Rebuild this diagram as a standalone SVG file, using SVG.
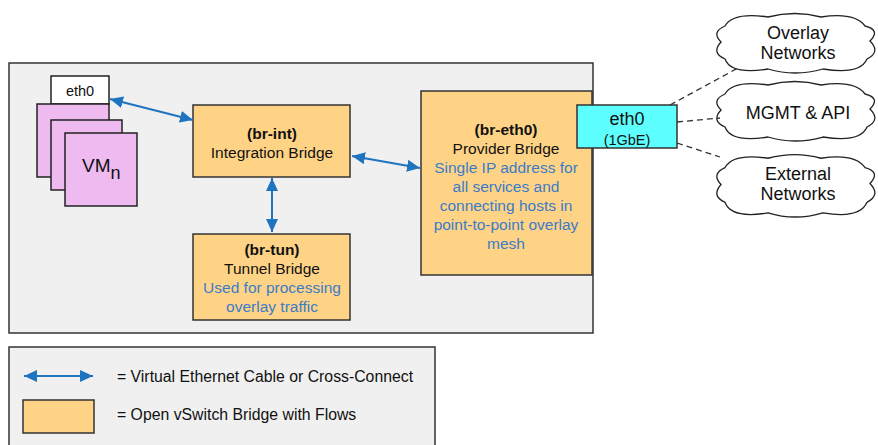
<svg xmlns="http://www.w3.org/2000/svg" width="878" height="445" viewBox="0 0 878 445">
<style>
text{font-family:"Liberation Sans",Arial,sans-serif;fill:#111;}
.c{text-anchor:middle;font-size:15.5px;}
.b{font-weight:bold;}
.blue{fill:#3a7cc8;}
.lg{font-size:15.8px;}
.br{fill:#ffd385;stroke:#333;stroke-width:1.5;}
.vm{fill:#eebaf0;stroke:#222;stroke-width:1.5;}
.conn{fill:none;stroke:#1f74c0;stroke-width:2;marker-start:url(#ah);marker-end:url(#ah);}
.dash{fill:none;stroke:#333;stroke-width:1.3;stroke-dasharray:6,4;}
.cloud{fill:#fff;stroke:#222;stroke-width:1.3;}
</style>
<defs>
<marker id="ah" markerUnits="userSpaceOnUse" markerWidth="14" markerHeight="12" refX="13" refY="6" orient="auto-start-reverse">
<path d="M0,0 L13,6 L0,12 Z" fill="#1f74c0"/>
</marker>
<path id="cloudShape" d="M12,14 Q20,0 55,5 Q82,-2 108,5 Q142,0 152,14 Q168,18 157,29 Q168,40 154,47 Q147,63 110,57 Q82,65 55,57 Q18,63 12,47 Q-2,41 8,30 Q-2,20 12,14 Z"/>
</defs>

<g id="host">
<rect x="9" y="63" width="584" height="270" fill="#f0f0f0" stroke="#333" stroke-width="1.5"/>
</g>

<g id="legend">
<rect x="9" y="347" width="426" height="110" fill="#f0f0f0" stroke="#333" stroke-width="1.5"/>
<path class="conn" d="M24,376 L93,376"/>
<text class="lg" x="117" y="381.5">= Virtual Ethernet Cable or Cross-Connect</text>
<rect class="br" x="23" y="400" width="71" height="33"/>
<text class="lg" x="117" y="419.5">= Open vSwitch Bridge with Flows</text>
</g>

<g id="vms">
<rect x="51" y="76" width="58" height="28" fill="#fff" stroke="#222" stroke-width="1.5"/>
<text class="c" x="80" y="96" style="font-size:14.5px">eth0</text>
<rect class="vm" x="37" y="104" width="72" height="73"/>
<rect class="vm" x="51" y="120" width="71" height="70"/>
<rect class="vm" x="65" y="133" width="72" height="73"/>
<text x="82" y="172" style="font-size:19px">VM<tspan dy="7" style="font-size:18px">n</tspan></text>
</g>

<g id="br-int">
<rect class="br" x="193" y="105" width="157" height="72"/>
<text class="c b" x="272" y="138.5">(br-int)</text>
<text class="c" x="272" y="157.5">Integration Bridge</text>
</g>

<g id="br-tun">
<rect class="br" x="193" y="234" width="157" height="86"/>
<text class="c b" x="272" y="254.5">(br-tun)</text>
<text class="c" x="272" y="273.5">Tunnel Bridge</text>
<text class="c blue" x="272" y="292.5">Used for processing</text>
<text class="c blue" x="272" y="311.5">overlay traffic</text>
</g>

<g id="br-eth0">
<rect class="br" x="421" y="91" width="171" height="184"/>
<text class="c b" x="506" y="134.5">(br-eth0)</text>
<text class="c" x="506" y="153.5">Provider Bridge</text>
<text class="c blue" x="506" y="172.5">Single IP address for</text>
<text class="c blue" x="506" y="191.5">all services and</text>
<text class="c blue" x="506" y="210.5">connecting hosts in</text>
<text class="c blue" x="506" y="229.5">point-to-point overlay</text>
<text class="c blue" x="506" y="248.5">mesh</text>
</g>

<g id="eth0-phys">
<rect x="577" y="105" width="100" height="43" fill="#5effff" stroke="#333" stroke-width="1.5"/>
<text class="c" x="627" y="124.5" style="font-size:18px">eth0</text>
<text class="c" x="627" y="145" style="font-size:14.5px">(1GbE)</text>
</g>

<g id="cloud-overlay">
<use href="#cloudShape" class="cloud" transform="translate(713,12)"/>
<text class="c" x="798" y="38.5" style="font-size:18px">Overlay</text>
<text class="c" x="798" y="58.5" style="font-size:18px">Networks</text>
</g>
<g id="cloud-mgmt">
<use href="#cloudShape" class="cloud" transform="translate(713,80)"/>
<text class="c" x="798" y="118.5" style="font-size:18px">MGMT &amp; API</text>
</g>
<g id="cloud-external">
<use href="#cloudShape" class="cloud" transform="translate(713,153) scale(1,1.05)"/>
<text class="c" x="798" y="179.5" style="font-size:18px">External</text>
<text class="c" x="798" y="199.5" style="font-size:18px">Networks</text>
</g>

<g id="connectors">
<path class="conn" d="M110,99 L193,120"/>
<path class="conn" d="M272,178 L272,232"/>
<path class="conn" d="M352,156 L420,168"/>
<path class="dash" d="M670,105 L738,68"/>
<path class="dash" d="M677,122 L720,118"/>
<path class="dash" d="M677,143 L720,157"/>
</g>
</svg>
